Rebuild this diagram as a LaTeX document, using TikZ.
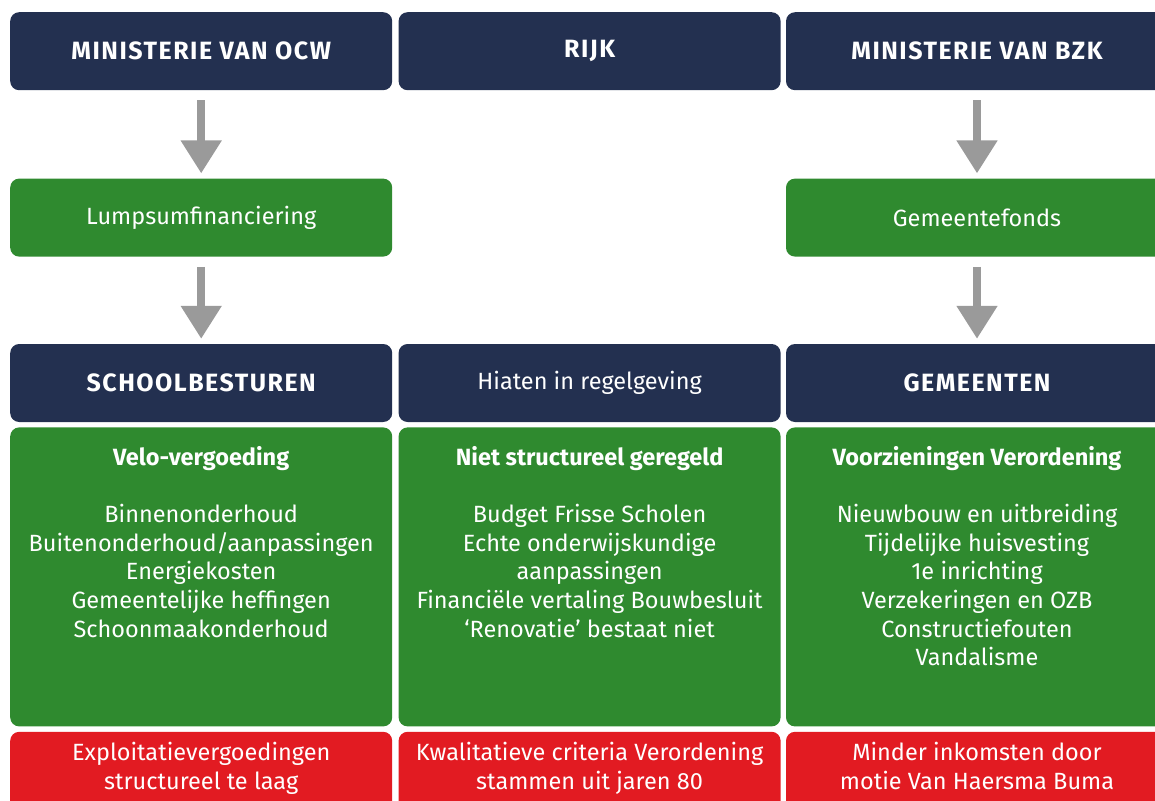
\documentclass[tikz,border=0pt]{standalone}
\usepackage{fontspec}
\setmainfont{Fira Sans}
\newfontfamily\headfont[LetterSpace=6]{Fira Sans}
\usetikzlibrary{arrows.meta,positioning}

\definecolor{navy}{HTML}{233050}
\definecolor{ngreen}{HTML}{2F8A2F}
\definecolor{nred}{HTML}{E21B22}
\definecolor{arrgray}{HTML}{9A9A9A}

\begin{document}
\begin{tikzpicture}[
  x=1pt, y=1pt,
  node distance=5pt,
  hdr/.style={fill=navy, rounded corners=9pt, minimum width=382pt, minimum height=78pt, inner sep=0pt, text=white, font=\headfont\bfseries\fontsize{25}{28}\selectfont},
  fund/.style={fill=ngreen, rounded corners=9pt, minimum width=382pt, minimum height=78pt, inner sep=0pt, text=white, font=\fontsize{23.5}{28}\selectfont},
  tall/.style={fill=ngreen, rounded corners=9pt, minimum width=382pt, minimum height=299pt, inner sep=0pt},
  issue/.style={fill=nred, rounded corners=9pt, minimum width=382pt, minimum height=100pt, inner sep=0pt},
  txt/.style={text=white, align=center, inner sep=0pt, font=\fontsize{23.5}{28.6}\selectfont},
  arrow/.style={-{Triangle[width=39pt,length=33pt]}, line width=8pt, arrgray, shorten <=10pt, shorten >=5pt}
]
\path[use as bounding box, clip] (0,0) rectangle (1155,-800);

% top row
\node[hdr, anchor=north west] (ocw) at (10,-12) {MINISTERIE VAN OCW};
\node[hdr, right=6pt of ocw] (rijk) {RIJK};
\node[hdr, right=5pt of rijk] (bzk) {MINISTERIE VAN BZK};

% funding
\node[fund, below=88pt of ocw] (lump) {Lumpsumfinanciering};
\node[fund, below=88pt of bzk] (gfonds) {Gemeentefonds};

% second row
\node[hdr, below=87pt of lump] (besturen) {SCHOOLBESTUREN};
\node[hdr, right=6pt of besturen, font=\fontsize{23.5}{28}\selectfont] (hiaten) {Hiaten in regelgeving};
\node[hdr, right=5pt of hiaten] (gemeenten) {GEMEENTEN};

% tasks per party
\node[tall, below=5pt of besturen] (velo) {};
\node[tall, below=5pt of hiaten] (nietgeregeld) {};
\node[tall, below=5pt of gemeenten] (verordening) {};

\node[txt, below=19pt of velo.north] (velotxt) {\textbf{Velo-vergoeding}\\ ~\\
  Binnenonderhoud\\ Buitenonderhoud/aanpassingen\\ Energiekosten\\
  Gemeentelijke heffingen\\ Schoonmaakonderhoud};
\node[txt, below=19pt of nietgeregeld.north] (niettxt) {\textbf{Niet structureel geregeld}\\ ~\\
  Budget Frisse Scholen\\ Echte onderwijskundige\\ aanpassingen\\
  Financiële vertaling Bouwbesluit\\ ‘Renovatie’ bestaat niet};
\node[txt, below=19pt of verordening.north] (vordtxt) {\textbf{Voorzieningen Verordening}\\ ~\\
  Nieuwbouw en uitbreiding\\ Tijdelijke huisvesting\\ 1e inrichting\\
  Verzekeringen en OZB\\ Constructiefouten\\ Vandalisme};

% bottlenecks
\node[issue, below=5pt of velo] (laag) {};
\node[issue, below=5pt of nietgeregeld] (criteria) {};
\node[issue, below=5pt of verordening] (inkomsten) {};

\node[txt, below=10.5pt of laag.north] {Exploitatievergoedingen\\ structureel te laag};
\node[txt, below=10.5pt of criteria.north] {Kwalitatieve criteria Verordening\\ stammen uit jaren 80};
\node[txt, below=10.5pt of inkomsten.north] {Minder inkomsten door\\ motie Van Haersma Buma};

% money flows
\draw[arrow] (ocw) -- (lump);
\draw[arrow] (lump) -- (besturen);
\draw[arrow] (bzk) -- (gfonds);
\draw[arrow] (gfonds) -- (gemeenten);
\end{tikzpicture}
\end{document}
